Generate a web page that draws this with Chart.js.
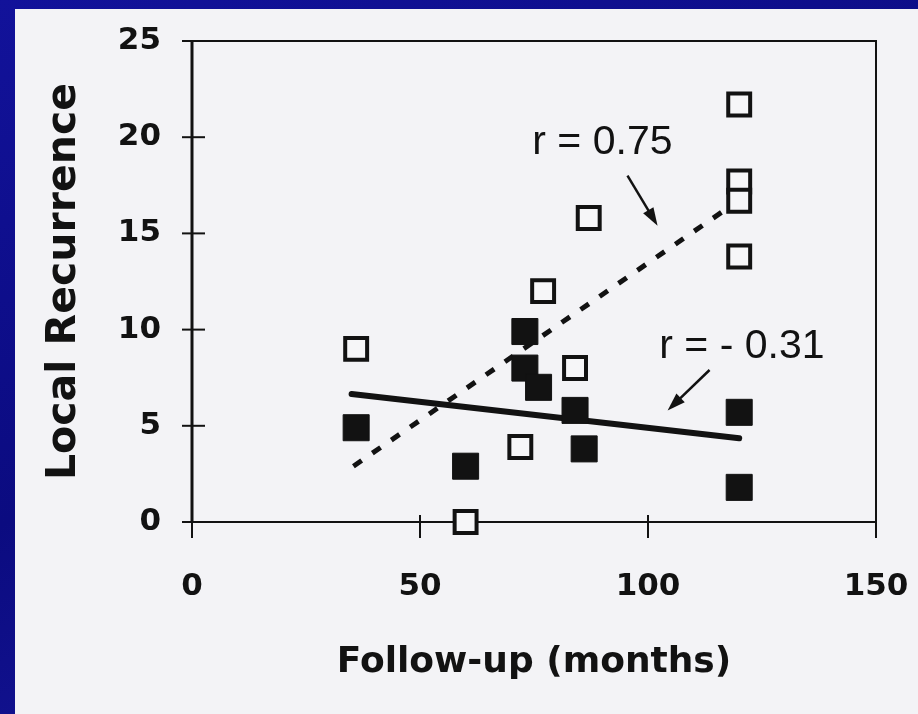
<!DOCTYPE html>
<html>
<head>
<meta charset="utf-8">
<script src="https://cdn.jsdelivr.net/npm/chart.js@4.4.1/dist/chart.umd.min.js"></script>
<style>
body { margin:0; width:918px; height:714px; overflow:hidden; background: linear-gradient(160deg,#12129a 0%,#0b0b80 50%,#1a1aa2 100%); }
#wrap { position:absolute; left:15px; top:9px; width:903px; height:705px; background:#f3f3f6; }
</style>
</head>
<body>
<div id="wrap"><canvas id="c" width="903" height="705"></canvas></div>
<script>
// values
var openPts = [[36,9],[60,0],[72,3.9],[77,12],[84,8],[87,15.8],[120,21.7],[120,17.7],[120,16.7],[120,13.8]];
var filledPts = [[36,4.9],[60,2.9],[73,9.9],[73,8],[76,7],[84,5.8],[86,3.8],[120,5.7],[120,1.8]];
var fitFilled = [[35,6.65],[120,4.35]];   // r = -0.31
var fitOpen = [[35.4,2.9],[118.6,16.5]];  // r = 0.75
var xTicks = [0,50,100,150];
var yTicks = [0,5,10,15,20,25];
var notes = [["r = 0.75",90,19.7],["r = - 0.31",120.6,9.1]];
var arrows = [[95.5,18.0,102.1,15.4],[113.5,7.9,104.3,5.8]];

function toXY(a){ return a.map(function(p){ return {x:p[0], y:p[1]}; }); }

var ink = '#121212';

var frame = {
  id: 'frame',
  beforeDatasetsDraw: function(chart){
    var ctx = chart.ctx, a = chart.chartArea;
    var xs = chart.scales.x, ys = chart.scales.y;
    ctx.save();
    ctx.strokeStyle = ink;
    ctx.lineWidth = 2;
    ctx.beginPath();
    ctx.moveTo(a.left, a.top); ctx.lineTo(a.right, a.top); ctx.lineTo(a.right, a.bottom);
    ctx.stroke();
    ctx.beginPath();
    ctx.moveTo(a.left, a.bottom); ctx.lineTo(a.right, a.bottom);
    ctx.stroke();
    ctx.lineWidth = 3;
    ctx.beginPath();
    ctx.moveTo(a.left, a.top); ctx.lineTo(a.left, a.bottom);
    ctx.stroke();
    // tick marks crossing the axes
    ctx.lineWidth = 2;
    yTicks.forEach(function(v){
      var py = ys.getPixelForValue(v);
      ctx.beginPath(); ctx.moveTo(a.left - 10, py); ctx.lineTo(a.left + 13, py); ctx.stroke();
    });
    xTicks.forEach(function(v){
      var px = xs.getPixelForValue(v);
      ctx.beginPath(); ctx.moveTo(px, a.bottom - 7); ctx.lineTo(px, a.bottom + 16); ctx.stroke();
    });
    ctx.restore();
  },
  afterDatasetsDraw: function(chart){
    var ctx = chart.ctx;
    var xs = chart.scales.x, ys = chart.scales.y;
    ctx.save();
    ctx.fillStyle = ink;
    ctx.strokeStyle = ink;
    ctx.font = '41px "Liberation Sans", Arial, sans-serif';
    ctx.textAlign = 'center';
    ctx.textBaseline = 'middle';
    notes.forEach(function(n){
      ctx.fillText(n[0], xs.getPixelForValue(n[1]), ys.getPixelForValue(n[2]));
    });
    arrows.forEach(function(r){
      var x1 = xs.getPixelForValue(r[0]), y1 = ys.getPixelForValue(r[1]);
      var x2 = xs.getPixelForValue(r[2]), y2 = ys.getPixelForValue(r[3]);
      var ang = Math.atan2(y2 - y1, x2 - x1);
      ctx.lineWidth = 2.5;
      ctx.beginPath(); ctx.moveTo(x1, y1);
      ctx.lineTo(x2 - 12 * Math.cos(ang), y2 - 12 * Math.sin(ang)); ctx.stroke();
      ctx.beginPath();
      ctx.moveTo(x2, y2);
      ctx.lineTo(x2 - 18 * Math.cos(ang) + 6 * Math.sin(ang), y2 - 18 * Math.sin(ang) - 6 * Math.cos(ang));
      ctx.lineTo(x2 - 18 * Math.cos(ang) - 6 * Math.sin(ang), y2 - 18 * Math.sin(ang) + 6 * Math.cos(ang));
      ctx.closePath(); ctx.fill();
    });
    ctx.restore();
  }
};

new Chart(document.getElementById('c'), {
  type: 'scatter',
  data: {
    datasets: [
      { type: 'line', data: toXY(fitFilled), borderColor: ink, borderWidth: 6, pointRadius: 0, borderCapStyle: 'round', order: 2, clip: false },
      { type: 'line', data: toXY(fitOpen), borderColor: ink, borderWidth: 5, borderDash: [10, 13], pointRadius: 0, order: 2, clip: false },
      { data: toXY(filledPts), pointStyle: 'rect', pointRadius: 18.4, backgroundColor: ink, borderColor: ink, borderWidth: 1, order: 1, clip: false },
      { data: toXY(openPts), pointStyle: 'rect', pointRadius: 15.5, backgroundColor: '#f6f6f8', borderColor: ink, borderWidth: 4, order: 0, clip: false }
    ]
  },
  options: {
    responsive: false,
    animation: false,
    devicePixelRatio: 1,
    layout: { padding: { top: 32, right: 42, left: 0, bottom: 0 } },
    plugins: { legend: { display: false }, tooltip: { enabled: false } },
    scales: {
      x: {
        type: 'linear', min: 0, max: 150,
        afterBuildTicks: function(s){ s.ticks = xTicks.map(function(v){ return {value: v}; }); },
        afterFit: function(s){ s.height = 192; s.paddingLeft = 0; s.paddingRight = 0; },
        grid: { display: false, drawTicks: false },
        border: { display: false },
        ticks: { color: ink, padding: 46, font: { family: 'DejaVu Sans', size: 31, weight: 'bold' } },
        title: { display: true, text: 'Follow-up (months)', color: ink, padding: { top: 0, bottom: 30 },
                 font: { family: 'DejaVu Sans', size: 36, weight: 'bold' } }
      },
      y: {
        type: 'linear', min: 0, max: 25,
        afterBuildTicks: function(s){ s.ticks = yTicks.map(function(v){ return {value: v}; }); },
        afterFit: function(s){ s.width = 177; s.paddingTop = 0; s.paddingBottom = 0; },
        grid: { display: false, drawTicks: false },
        border: { display: false },
        ticks: { color: ink, padding: 31, font: { family: 'DejaVu Sans', size: 31, weight: 'bold' } },
        title: { display: true, text: 'Local Recurrence', color: ink, padding: { top: 25, bottom: 0 },
                 font: { family: 'DejaVu Sans', size: 41, weight: 'bold' } }
      }
    }
  },
  plugins: [frame]
});
</script>
</body>
</html>
